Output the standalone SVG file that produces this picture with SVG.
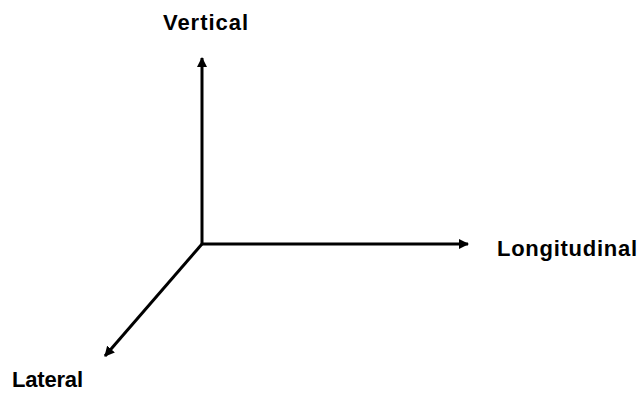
<svg xmlns="http://www.w3.org/2000/svg" width="640" height="393" viewBox="0 0 640 393">
<style>
.lbl{font-family:"Liberation Sans",Arial,sans-serif;font-weight:bold;font-size:22px;fill:#000}
.ax{stroke:#000;stroke-width:3;fill:none}
</style>
<defs>
<marker id="ah" viewBox="0 0 10 10" refX="9" refY="5" markerWidth="3.4" markerHeight="3.4" orient="auto" markerUnits="strokeWidth">
<path d="M0,0 L10,5 L0,10 z" fill="#000"/>
</marker>
</defs>
<rect width="640" height="393" fill="#fff"/>
<g id="connectors">
<line class="ax" x1="202" y1="244" x2="202" y2="58" marker-end="url(#ah)"/>
<line class="ax" x1="202" y1="244" x2="468" y2="244" marker-end="url(#ah)"/>
<line class="ax" x1="202" y1="244" x2="105" y2="356" marker-end="url(#ah)"/>
</g>
<g id="vertical"><text class="lbl" x="163" y="30" textLength="85" lengthAdjust="spacing">Vertical</text></g>
<g id="longitudinal"><text class="lbl" x="497" y="256" textLength="140" lengthAdjust="spacing">Longitudinal</text></g>
<g id="lateral"><text class="lbl" x="12" y="387" textLength="71" lengthAdjust="spacing">Lateral</text></g>
</svg>
